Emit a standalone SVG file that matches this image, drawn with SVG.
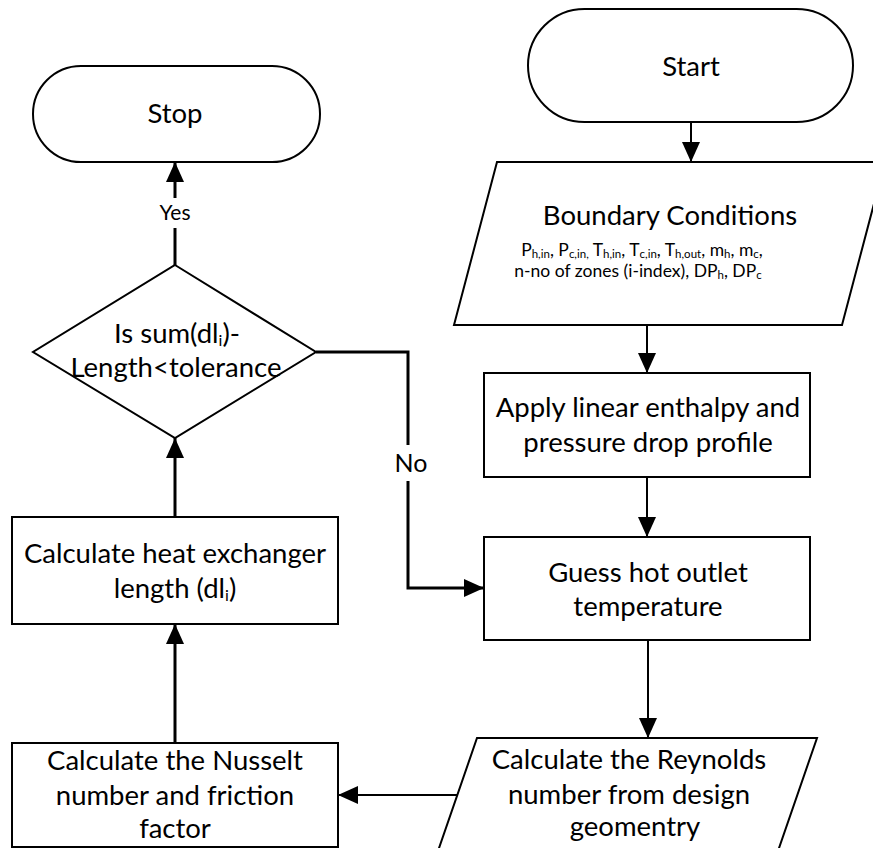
<svg xmlns="http://www.w3.org/2000/svg" width="873" height="848" viewBox="0 0 873 848">
  <style>
    .shape { fill: #ffffff; stroke: #000000; stroke-width: 2; }
    .txt { font-family: Lato, "Open Sans", sans-serif; font-size: 27.5px; fill: #000000; text-anchor: middle; }
    .small { font-family: Lato, "Open Sans", sans-serif; font-size: 17.5px; fill: #000000; text-anchor: middle; }
    .sub { font-size: 11.5px; }
    .subL { font-size: 16px; }
    .lbl { font-family: Lato, "Open Sans", sans-serif; fill: #000000; text-anchor: middle; }
    .conn { fill: none; stroke: #000000; stroke-width: 2; }
    .thick { stroke-width: 3; }
  </style>
  <defs>
    <marker id="arrow" viewBox="0 0 20 18" refX="20" refY="9" markerWidth="20" markerHeight="18" markerUnits="userSpaceOnUse" orient="auto">
      <path d="M0,0 L20,9 L0,18 Z" fill="#000000"/>
    </marker>
  </defs>

  <rect width="873" height="848" fill="#ffffff"/>

  <!-- connectors -->
  <g id="connectors">
    <path class="conn" d="M691,122 V162" marker-end="url(#arrow)"/>
    <path class="conn" d="M647,325 V373" marker-end="url(#arrow)"/>
    <path class="conn" d="M647,477 V537" marker-end="url(#arrow)"/>
    <path class="conn" d="M648,640 V738" marker-end="url(#arrow)"/>
    <path class="conn" d="M457,795 H338" marker-end="url(#arrow)"/>
    <path class="conn thick" d="M175,743 V624" marker-end="url(#arrow)"/>
    <path class="conn thick" d="M175,517 V438" marker-end="url(#arrow)"/>
    <!-- Yes branch -->
    <path class="conn thick" d="M175,265 V228"/>
    <path class="conn thick" d="M175,198 V162" marker-end="url(#arrow)"/>
    <text class="lbl" x="175" y="220" font-size="21">Yes</text>
    <!-- No branch -->
    <path class="conn thick" d="M316,352 H408 V445"/>
    <path class="conn thick" d="M408,481 V588 H484" marker-end="url(#arrow)"/>
    <text class="lbl" x="411" y="472" font-size="25">No</text>
  </g>

  <g id="start">
    <rect class="shape" x="528" y="9" width="325" height="113" rx="56.5" ry="56.5"/>
    <text class="txt" x="691" y="76">Start</text>
  </g>

  <g id="stop">
    <rect class="shape" x="33" y="66" width="287" height="96" rx="48" ry="48"/>
    <text class="txt" x="175" y="123">Stop</text>
  </g>

  <g id="boundary">
    <polygon class="shape" points="497,162 885,162 842,325 454,325"/>
    <text class="txt" x="670" y="225">Boundary Conditions</text>
    <text class="small" x="642" y="256">P<tspan class="sub" dy="2">h,in</tspan><tspan dy="-2">, P</tspan><tspan class="sub" dy="2">c,in,</tspan><tspan dy="-2"> T</tspan><tspan class="sub" dy="2">h,in</tspan><tspan dy="-2">, T</tspan><tspan class="sub" dy="2">c,in</tspan><tspan dy="-2">, T</tspan><tspan class="sub" dy="2">h,out</tspan><tspan dy="-2">, m</tspan><tspan class="sub" dy="2">h</tspan><tspan dy="-2">, m</tspan><tspan class="sub" dy="2">c</tspan><tspan dy="-2">,</tspan></text>
    <text class="small" x="638" y="277">n-no of zones (i-index), DP<tspan class="sub" dy="2">h</tspan><tspan dy="-2">, DP</tspan><tspan class="sub" dy="2">c</tspan></text>
  </g>

  <g id="apply">
    <rect class="shape" x="484" y="373" width="326" height="104"/>
    <text class="txt" x="648" y="417">Apply linear enthalpy and</text>
    <text class="txt" x="648" y="452">pressure drop profile</text>
  </g>

  <g id="guess">
    <rect class="shape" x="484" y="537" width="326" height="103"/>
    <text class="txt" x="648" y="582">Guess hot outlet</text>
    <text class="txt" x="648" y="616">temperature</text>
  </g>

  <g id="reynolds">
    <polygon class="shape" points="477,738 817,738 768,880 428,880"/>
    <text class="txt" x="629" y="769">Calculate the Reynolds</text>
    <text class="txt" x="629" y="804">number from design</text>
    <text class="txt" x="635" y="836">geomentry</text>
  </g>

  <g id="nusselt">
    <rect class="shape" x="12" y="743" width="326" height="104"/>
    <text class="txt" x="175" y="770">Calculate the Nusselt</text>
    <text class="txt" x="175" y="805">number and friction</text>
    <text class="txt" x="175" y="838">factor</text>
  </g>

  <g id="length">
    <rect class="shape" x="12" y="517" width="326" height="107"/>
    <text class="txt" x="175" y="563">Calculate heat exchanger</text>
    <text class="txt" x="175" y="598">length (dl<tspan class="subL" dy="3">i</tspan><tspan dy="-3">)</tspan></text>
  </g>

  <g id="decision">
    <polygon class="shape" points="175,265 316,352 175,438 33,352"/>
    <text class="txt" x="177" y="343">Is sum(dl<tspan class="subL" dy="3">i</tspan><tspan dy="-3">)-</tspan></text>
    <text class="txt" x="176" y="377">Length&lt;tolerance</text>
  </g>
</svg>
